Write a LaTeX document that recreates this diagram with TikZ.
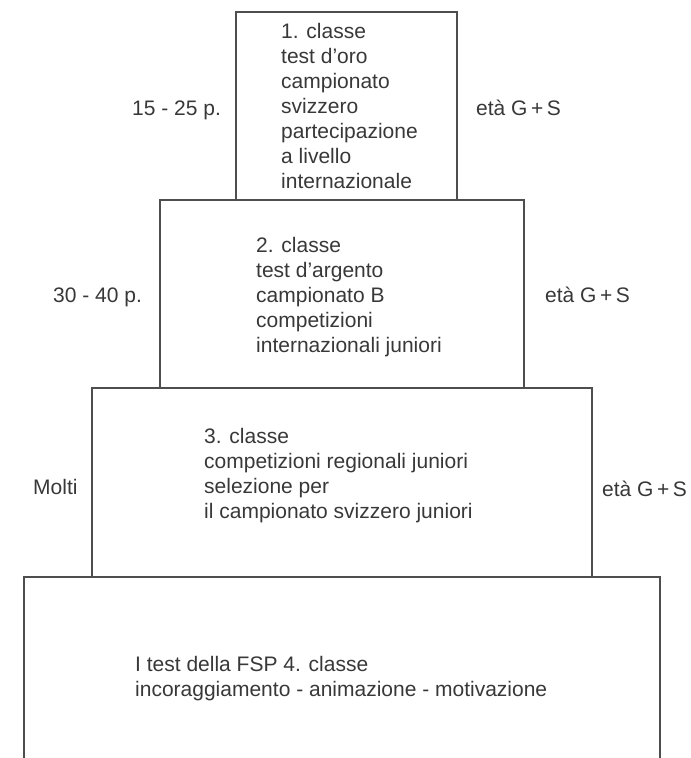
\documentclass[tikz,border=0pt]{standalone}
\usepackage{fontspec}
\setmainfont{Liberation Sans}
\usetikzlibrary{positioning}
\definecolor{ink}{RGB}{56,56,56}
\definecolor{rule}{RGB}{78,78,78}

\begin{document}
\begin{tikzpicture}[
  x=1pt, y=-1pt,
  tier/.style={draw=rule, line width=1.2pt},
  txt/.style={anchor=base west, inner sep=0pt, align=left, text=ink,
              font=\fontsize{21}{25}\selectfont},
  side/.style={txt}]
  \useasboundingbox (0,0) rectangle (691,758);
  % the four tiers, widest at the bottom
  \draw[tier] (236,200) |- (457,12) -- (457,200);
  \draw[tier] (160,200) rectangle (524,388);
  \draw[tier] (92,388) rectangle (592,577);
  \draw[tier] (24,758) |- (660,577) -- (660,758);
  % texts inside (placed by their last line)
  \node[txt] (c1) at (281,188) {1. classe\\test d’oro\\campionato\\svizzero\\partecipazione\\a livello\\internazionale};
  \node[txt] (c2) at (256,352) {2. classe\\test d’argento\\campionato B\\competizioni\\internazionali juniori};
  \node[txt] (c3) at (204,518) {3. classe\\competizioni regionali juniori\\selezione per\\il campionato svizzero juniori};
  \node[txt] (c4) at (135,696) {I test della FSP 4. classe\\incoraggiamento - animazione - motivazione};
  % numbers and ages
  \node[side] (n1) at (132,115) {15 - 25 p.};
  \node[side] (a1) at (476,115) {età G\,+\,S};
  \node[side] (n2) at (53,302) {30 - 40 p.};
  \node[side] (a2) at (545,302) {età G\,+\,S};
  \node[side] (n3) at (33,494) {Molti};
  \node[side] (a3) at (602,496) {età G\,+\,S};
\end{tikzpicture}
\end{document}
